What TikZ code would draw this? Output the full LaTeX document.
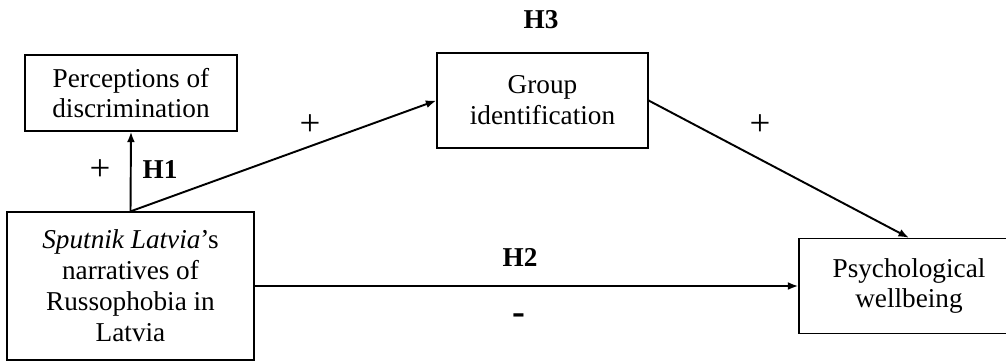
\documentclass[tikz,border=0pt]{standalone}
\usepackage{fontspec}
\setmainfont{Liberation Serif}
\usepackage{tikz}
\usetikzlibrary{arrows.meta}
\tikzset{
    varbox/.style={draw, line width=0.75pt, align=center, inner sep=2pt},
    link/.style={-{Latex[length=6pt,width=4.5pt]}, line width=1.1pt},
    sign/.style={font=\fontsize{21}{24}\selectfont},
}

\begin{document}
\begin{tikzpicture}[x=0.02cm, y=-0.02cm, font=\fontsize{15.5}{17.6}\selectfont]
    \useasboundingbox (0,0) rectangle (1006,363);

    % Variables
    \node[varbox, minimum width=4.24cm, minimum height=1.52cm] (disc) at (131,93) {Perceptions of\\discrimination};
    \node[varbox, minimum width=4.94cm, minimum height=2.96cm] (src) at (130.5,286) {\textit{Sputnik Latvia}’s\\narratives of\\Russophobia in\\Latvia};
    \node[varbox, minimum width=4.22cm, minimum height=1.9cm] (group) at (542.5,100.5) {Group\\identification};
    \node[varbox, minimum width=4.4cm, minimum height=1.9cm] (psych) at (909,286) {Psychological\\wellbeing};

    % Paths
    \draw[link] (src.north) -- (disc.south);
    \draw[link] (src.north) -- (group.west);
    \draw[link] (group.east) -- (psych.north);
    \draw[link] (src.east) -- (psych.west);

    % Hypotheses and signs
    \node (h1) at (160,170) {\textbf{H1}};
    \node[sign] (s1) at (100,170) {+};
    \node (h3) at (541,20) {\textbf{H3}};
    \node[sign] (s3a) at (310,125) {+};
    \node[sign] (s3b) at (760,125) {+};
    \node (h2) at (520,257) {\textbf{H2}};
    \node[font=\fontsize{22}{24}\selectfont] (s2) at (519,319) {\textbf{-}};
\end{tikzpicture}
\end{document}
